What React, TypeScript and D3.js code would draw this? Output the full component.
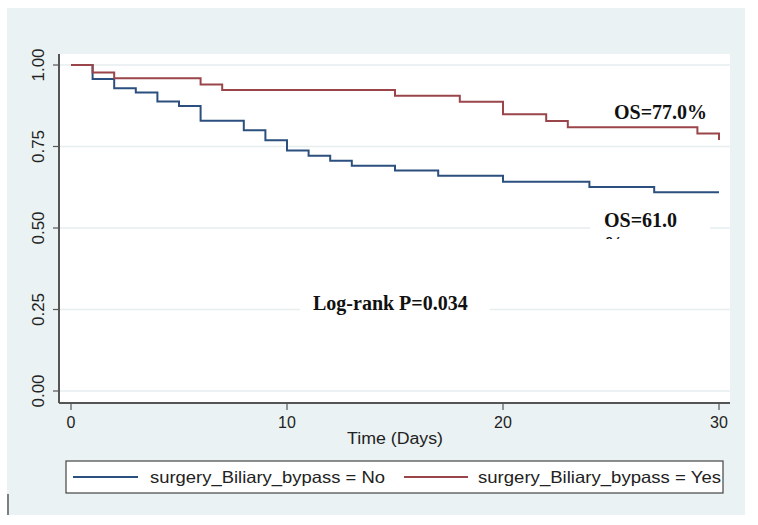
import React from "react";
import * as d3 from "d3";

// Kaplan–Meier estimates by biliary bypass status (time in days)
const noTimes = [0, 1, 2, 3, 4, 5, 6, 8, 9, 10, 11, 12, 13, 15, 17, 20, 24, 27, 30];
const noSurvival = [1, 0.957, 0.929, 0.916, 0.888, 0.874, 0.829, 0.8, 0.769, 0.738, 0.722, 0.706, 0.691, 0.676, 0.66, 0.642, 0.626, 0.61, 0.61];
const yesTimes = [0, 1, 2, 6, 7, 15, 18, 20, 22, 23, 29, 30];
const yesSurvival = [1, 0.977, 0.959, 0.94, 0.923, 0.906, 0.887, 0.849, 0.828, 0.809, 0.79, 0.77];

const xTicks = [0, 10, 20, 30];
const yTicks = [0, 0.25, 0.5, 0.75, 1];
const seriesLabels = ["surgery_Biliary_bypass = No", "surgery_Biliary_bypass = Yes"];
const annotations = { yes: "OS=77.0%", noFirst: "OS=61.0", noSecond: "%", logRank: "Log-rank P=0.034" };
const xTitle = "Time (Days)";

const W = 758;
const H = 525;
const plot = { left: 59, right: 730, top: 54, bottom: 403 };

const sans = "'Liberation Sans', Arial, Helvetica, sans-serif";
const serif = "'Liberation Serif', 'Times New Roman', Times, serif";
const navy = "#2B4F7E";
const maroon = "#9A454A";
const grid = "#E6EEF0";
const axisColor = "#555";

export default function App() {
  const x = d3.scaleLinear().domain([0, 30]).range([71, 719]);
  const y = d3.scaleLinear().domain([0, 1]).range([391, 65]);
  const fmt = d3.format(".2f");

  const line = d3
    .line<[number, number]>()
    .x((d) => x(d[0]))
    .y((d) => y(d[1]))
    .curve(d3.curveStepAfter);

  const noPath = line(noTimes.map((t, i) => [t, noSurvival[i]] as [number, number])) || "";
  const yesPath = line(yesTimes.map((t, i) => [t, yesSurvival[i]] as [number, number])) || "";

  return (
    <svg
      width={W}
      height={H}
      style={{ position: "absolute", left: 0, top: 0, background: "#fff" }}
    >
      <defs>
        <clipPath id="os-no-clip">
          <rect x={590} y={200} width={120} height={39} />
        </clipPath>
      </defs>
      {/* outer graph region */}
      <rect x={7} y={8} width={738} height={507} fill="#EAF2F3" />
      {/* plot region */}
      <rect x={plot.left} y={plot.top} width={plot.right - plot.left} height={plot.bottom - plot.top} fill="#fff" />

      {/* gridlines */}
      {yTicks.map((t) => (
        <line key={"g" + t} x1={plot.left} x2={plot.right} y1={y(t)} y2={y(t)} stroke={grid} strokeWidth={1.5} />
      ))}

      {/* survival curves */}
      <path d={noPath} fill="none" stroke={navy} strokeWidth={2} />
      <path d={yesPath} fill="none" stroke={maroon} strokeWidth={2} />

      {/* axes */}
      <line x1={plot.left} x2={plot.left} y1={plot.top} y2={plot.bottom} stroke={axisColor} strokeWidth={2} />
      <line x1={plot.left} x2={plot.right} y1={plot.bottom} y2={plot.bottom} stroke={axisColor} strokeWidth={2} />
      {yTicks.map((t) => (
        <g key={"y" + t}>
          <line x1={plot.left - 6} x2={plot.left} y1={y(t)} y2={y(t)} stroke={axisColor} strokeWidth={1.2} />
          <text
            transform={`translate(44,${y(t)}) rotate(-90)`}
            textAnchor="middle"
            fontFamily={sans}
            fontSize={17}
            fill="#222"
          >
            {fmt(t)}
          </text>
        </g>
      ))}
      {xTicks.map((t) => (
        <g key={"x" + t}>
          <line x1={x(t)} x2={x(t)} y1={plot.bottom} y2={plot.bottom + 7} stroke={axisColor} strokeWidth={1.2} />
          <text x={x(t)} y={428} textAnchor="middle" fontFamily={sans} fontSize={16} fill="#222">
            {t}
          </text>
        </g>
      ))}
      <text x={347} y={444} fontFamily={sans} fontSize={16} textLength={96} lengthAdjust="spacingAndGlyphs" fill="#222">
        {xTitle}
      </text>

      {/* annotations */}
      <text x={614} y={119} fontFamily={serif} fontWeight="bold" fontSize={20} fill="#111">
        {annotations.yes}
      </text>
      <g clipPath="url(#os-no-clip)">
        <rect x={590} y={200} width={120} height={39} fill="#fff" />
        <text x={604} y={227} fontFamily={serif} fontWeight="bold" fontSize={20} fill="#111">
          {annotations.noFirst}
        </text>
        <text x={604} y={251} fontFamily={serif} fontWeight="bold" fontSize={20} fill="#111">
          {annotations.noSecond}
        </text>
      </g>
      <rect x={300} y={290} width={190} height={30} fill="#fff" />
      <text x={313} y={310} fontFamily={serif} fontWeight="bold" fontSize={20} fill="#111">
        {annotations.logRank}
      </text>

      {/* legend */}
      <rect x={66} y={461} width={657} height={32} fill="#fff" stroke="#444" strokeWidth={1.2} />
      <line x1={73} x2={138} y1={477} y2={477} stroke={navy} strokeWidth={2} />
      <text x={150} y={483} fontFamily={sans} fontSize={16.5} textLength={235} lengthAdjust="spacingAndGlyphs" fill="#222">
        {seriesLabels[0]}
      </text>
      <line x1={404} x2={468} y1={477} y2={477} stroke={maroon} strokeWidth={2} />
      <text x={478} y={483} fontFamily={sans} fontSize={16.5} textLength={243} lengthAdjust="spacingAndGlyphs" fill="#222">
        {seriesLabels[1]}
      </text>

      {/* stray edge mark */}
      <line x1={8} x2={8} y1={494} y2={515} stroke="#333" strokeWidth={1.2} />
    </svg>
  );
}
